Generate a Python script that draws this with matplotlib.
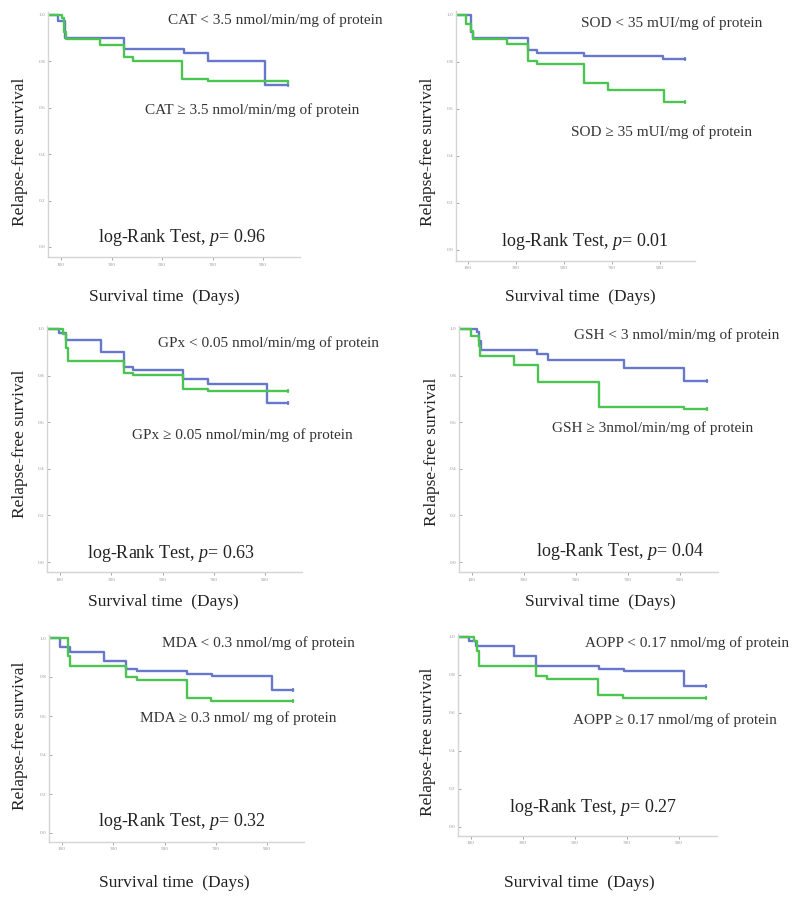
import matplotlib
matplotlib.use("Agg")
import matplotlib.pyplot as plt

plt.rcParams['font.family'] = ['Liberation Serif', 'DejaVu Serif']
plt.rcParams['mathtext.fontset'] = 'custom'
plt.rcParams['mathtext.rm'] = 'Liberation Serif'
plt.rcParams['mathtext.it'] = 'Liberation Serif:italic'

W, H = 800, 902

# Kaplan-Meier step data (days, survival)
cat_low_t = [0, 88, 116, 350, 587, 682, 909, 1000]
cat_low_s = [1.0, 0.974, 0.899, 0.853, 0.835, 0.80, 0.70, 0.70]
cat_high_t = [0, 104, 112, 118, 254, 349, 386, 581, 682, 1000]
cat_high_s = [1.0, 0.986, 0.928, 0.895, 0.87, 0.82, 0.803, 0.722, 0.714, 0.712]

sod_low_t = [0, 114, 122, 348, 389, 584, 914, 1004]
sod_low_s = [1.0, 0.929, 0.90, 0.851, 0.837, 0.826, 0.811, 0.811]
sod_high_t = [0, 90, 114, 122, 263, 348, 389, 584, 684, 918, 1004]
sod_high_s = [1.0, 0.962, 0.93, 0.898, 0.877, 0.806, 0.792, 0.709, 0.681, 0.628, 0.628]

gpx_low_t = [0, 97, 123, 260, 351, 386, 579, 676, 906, 991]
gpx_low_s = [1.0, 0.983, 0.951, 0.901, 0.839, 0.825, 0.786, 0.763, 0.684, 0.684]
gpx_high_t = [0, 113, 123, 132, 351, 386, 581, 679, 991]
gpx_high_s = [1.0, 0.98, 0.918, 0.861, 0.813, 0.803, 0.742, 0.733, 0.733]

gsh_low_t = [0, 119, 128, 135, 350, 391, 686, 917, 1003]
gsh_low_s = [1.0, 0.987, 0.947, 0.911, 0.892, 0.868, 0.832, 0.778, 0.778]
gsh_high_t = [0, 96, 126, 132, 263, 352, 590, 917, 1003]
gsh_high_s = [1.0, 0.971, 0.925, 0.885, 0.844, 0.772, 0.664, 0.656, 0.656]

mda_low_t = [0, 94, 130, 263, 351, 393, 588, 685, 919, 1001]
mda_low_s = [1.0, 0.952, 0.928, 0.880, 0.841, 0.829, 0.817, 0.807, 0.735, 0.735]
mda_high_t = [0, 123, 132, 351, 393, 588, 683, 1001]
mda_high_s = [1.0, 0.906, 0.855, 0.798, 0.786, 0.692, 0.675, 0.675]

aopp_low_t = [0, 91, 120, 264, 350, 593, 689, 918, 1005]
aopp_low_s = [1.0, 0.977, 0.951, 0.898, 0.849, 0.833, 0.823, 0.744, 0.744]
aopp_high_t = [0, 113, 123, 129, 350, 391, 589, 685, 1005]
aopp_high_s = [1.0, 0.977, 0.925, 0.846, 0.796, 0.781, 0.696, 0.679, 0.679]

low_labels = ["CAT < 3.5 nmol/min/mg of protein", "SOD < 35 mUI/mg of protein",
              "GPx < 0.05 nmol/min/mg of protein", "GSH < 3 nmol/min/mg of protein",
              "MDA < 0.3 nmol/mg of protein", "AOPP < 0.17 nmol/mg of protein"]
high_labels = ["CAT \u2265 3.5 nmol/min/mg of protein", "SOD \u2265 35 mUI/mg of protein",
               "GPx \u2265 0.05 nmol/min/mg of protein", "GSH \u2265 3nmol/min/mg of protein",
               "MDA \u2265 0.3 nmol/ mg of protein", "AOPP \u2265 0.17 nmol/mg of protein"]
p_values = ["0.96", "0.01", "0.63", "0.04", "0.32", "0.27"]

x_ticks = [100, 300, 500, 700, 900]
y_ticks = [0.0, 0.2, 0.4, 0.6, 0.8, 1.0]

curves = [
    (cat_low_t, cat_low_s, cat_high_t, cat_high_s),
    (sod_low_t, sod_low_s, sod_high_t, sod_high_s),
    (gpx_low_t, gpx_low_s, gpx_high_t, gpx_high_s),
    (gsh_low_t, gsh_low_s, gsh_high_t, gsh_high_s),
    (mda_low_t, mda_low_s, mda_high_t, mda_high_s),
    (aopp_low_t, aopp_low_s, aopp_high_t, aopp_high_s),
]

# layout in pixels: x of day 100, x of day 900, y of S=1, y of S=0
panels = [(61, 263, 15, 247), (468, 660, 15, 250),
          (60, 265, 329, 562), (472, 680, 329, 562),
          (62, 267, 638, 833), (471, 679, 637, 827)]
# text positions (px): top label, bottom label, log-rank, ylabel, xlabel
text_pos = [
    ((275, 20), (252, 110), (182, 237), (20, 152), (164, 297)),
    ((672, 23), (662, 132), (585, 242), (428, 152), (580, 297)),
    ((268, 343), (242, 435), (171, 553), (20, 444), (163, 602)),
    ((677, 335), (653, 428), (620, 552), (432, 452), (600, 602)),
    ((258, 643), (238, 718), (182, 822), (20, 736), (174, 883)),
    ((687, 643), (675, 720), (593, 808), (428, 742), (579, 883)),
]

XMIN, XMAX = 50, 1045
YMIN, YMAX = -0.045, 1.015
BLUE = "#6677cc"
GREEN = "#4cc452"

fig = plt.figure(figsize=(W / 100, H / 100), dpi=100)


def fx(px):
    return px / W


def fy(py):
    return 1 - py / H


for i, (p100, p900, y1, y0) in enumerate(panels):
    sx = (p900 - p100) / 800.0
    left = p100 - (100 - XMIN) * sx
    right = p900 + (XMAX - 900) * sx
    sy = y0 - y1
    top = y1 - (YMAX - 1) * sy
    bottom = y0 - YMIN * sy
    ax = fig.add_axes([fx(left), fy(bottom), (right - left) / W, (bottom - top) / H])
    ax.set_xlim(XMIN, XMAX)
    ax.set_ylim(YMIN, YMAX)

    bt, bs, gt, gs = curves[i]
    ax.step(bt, bs, where='post', color=BLUE, lw=1.7)
    ax.step(gt, gs, where='post', color=GREEN, lw=1.7)
    ax.plot(bt[-1], bs[-1], marker='|', color=BLUE, ms=3, mew=1.2)
    ax.plot(gt[-1], gs[-1], marker='|', color=GREEN, ms=3, mew=1.2)

    for side in ['top', 'right']:
        ax.spines[side].set_visible(False)
    for side in ['left', 'bottom']:
        ax.spines[side].set_color('#d4d4d4')
        ax.spines[side].set_linewidth(1.0)
    ax.set_xticks(x_ticks)
    ax.set_xticklabels([str(v) for v in x_ticks])
    ax.set_yticks(y_ticks)
    ax.set_yticklabels(["%.1f" % v for v in y_ticks])
    ax.tick_params(axis='both', labelsize=3.8, colors='#999999', length=2, width=0.6, pad=2)
    ax.tick_params(axis='y', direction='in')

    (tx, ty), (bx, by), (lx, ly), (yx, yy), (xx, xy) = text_pos[i]
    fig.text(fx(tx), fy(ty), low_labels[i], ha='center', va='center', fontsize=11, color='#333333')
    fig.text(fx(bx), fy(by), high_labels[i], ha='center', va='center', fontsize=11, color='#333333')
    fig.text(fx(lx), fy(ly), r"log-Rank Test, $\mathit{p}$= " + p_values[i], ha='center', va='center',
             fontsize=13, color='#222222')
    fig.text(fx(yx), fy(yy), "Relapse-free survival", ha='center', va='center', rotation=90,
             fontsize=12.5, color='#222222')
    fig.text(fx(xx), fy(xy), "Survival time  (Days)", ha='center', va='center',
             fontsize=12.5, color='#222222')

fig.savefig("out.png", dpi=100)
